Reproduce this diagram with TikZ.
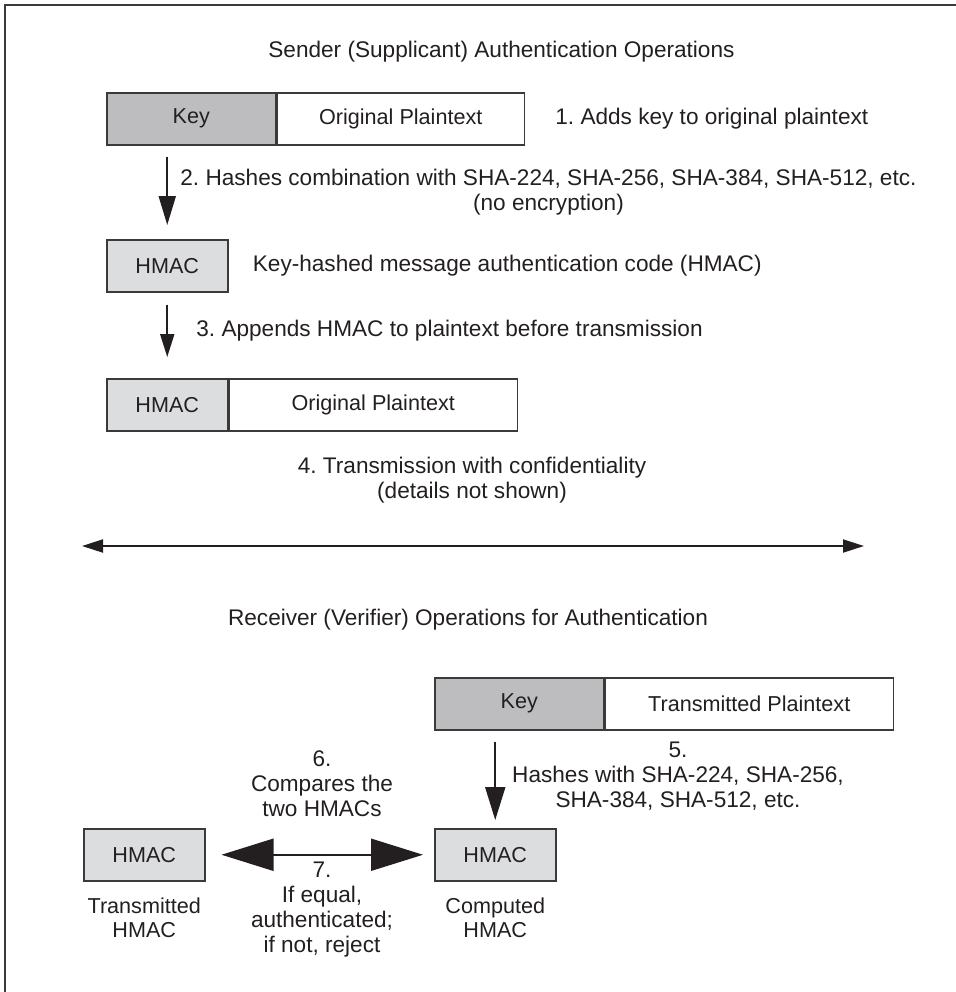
\documentclass[tikz,border=0pt]{standalone}
\usepackage{fontspec}
\setmainfont{Liberation Sans}
\usetikzlibrary{arrows.meta, positioning, calc}
\definecolor{keygray}{HTML}{BDBDBF}
\definecolor{macgray}{HTML}{DCDDDF}
\definecolor{linegray}{HTML}{3A3A3A}
\definecolor{inkblack}{HTML}{231F20}
\newcommand{\diafont}{\fontsize{11.3pt}{12.5pt}\selectfont\frenchspacing}
\newcommand{\boxfont}{\fontsize{10.8pt}{12pt}\selectfont\frenchspacing}
\tikzset{
  hbox/.style={draw=linegray, line width=0.75pt, fill=white, inner sep=0pt,
    minimum height=26pt, font=\boxfont, text=inkblack},
  skey/.style={fill=keygray, minimum width=84.5pt},
  smac/.style={fill=macgray, minimum width=60.5pt},
  htext/.style={font=\diafont, text=inkblack, align=center, inner sep=0pt},
  hsub/.style={font=\boxfont, text=inkblack, align=center, inner sep=0pt},
  hmarrow/.style 2 args={-{Triangle[length=#1, width=#2]}, line width=1pt, draw=inkblack, fill=inkblack},
  dblarrow/.style 2 args={{Triangle[length=#1, width=#2]}-{Triangle[length=#1, width=#2]},
    line width=1pt, draw=inkblack, fill=inkblack},
}

\begin{document}
\begin{tikzpicture}[x=0.5pt, y=-0.5pt]
  \useasboundingbox (0,0) rectangle (956,992);
  \draw[line width=0.8pt, linegray] (5,992) -- (5,5) -- (956,5);
  % Sender
  \node[htext, anchor=west] (sendtitle) at (268,52) {Sender (Supplicant) Authentication Operations};
  \node[hbox, skey, anchor=north west] (key1) at (106,92) {Key};
  \node[hbox, minimum width=123.5pt, right=0pt of key1] (plain1) {Original Plaintext};
  \node[htext, right=15pt of plain1] (step1) {1. Adds key to original plaintext};
  \node[hbox, smac, anchor=north west] (mac1) at (106,239) {HMAC};
  \node[htext, right=12pt of mac1] (macdesc) {Key-hashed message authentication code (HMAC)};
  \node[hbox, smac, anchor=north west] (mac2) at (106,378) {HMAC};
  \node[hbox, minimum width=144pt, right=0pt of mac2] (plain2) {Original Plaintext};
  \node[htext, anchor=west] (step2) at (180,192) {2. Hashes combination with SHA-224, SHA-256, SHA-384, SHA-512, etc.\\(no encryption)};
  \node[htext, anchor=west] (step3) at (196,331) {3. Appends HMAC to plaintext before transmission};
  \draw[hmarrow={14.5pt}{8.5pt}, shorten <=5.5pt, shorten >=7pt] (mac1.north |- key1.south) -- (mac1.north);
  \draw[hmarrow={11.5pt}{7pt}, shorten <=6pt, shorten >=10.5pt] (mac1.south) -- (mac2.north);
  % Transmission
  \node[htext] (step4) at (472,480) {4. Transmission with confidentiality\\(details not shown)};
  \coordinate (txleft) at (82,546);
  \coordinate (txright) at (864,546);
  \draw[dblarrow={10.5pt}{6.5pt}] (txleft) -- (txright);
  % Receiver
  \node[htext] (recvtitle) at (468,620) {Receiver (Verifier) Operations for Authentication};
  \node[hbox, skey, anchor=north west] (key2) at (434,677) {Key};
  \node[hbox, minimum width=144pt, right=0pt of key2] (plain3) {Transmitted Plaintext};
  \node[hbox, smac, anchor=north west] (macc) at (434,828) {HMAC};
  \node[hsub, below=8pt of macc] (maccname) {Computed\\HMAC};
  \node[hbox, smac, anchor=north west] (mact) at (83,828) {HMAC};
  \node[hsub, below=8pt of mact] (mactname) {Transmitted\\HMAC};
  \node[htext] (step5) at (678,776) {5.\\Hashes with SHA-224, SHA-256,\\SHA-384, SHA-512, etc.};
  \draw[hmarrow={16.5pt}{10pt}, shorten <=5.5pt, shorten >=4pt] (macc.north |- key2.south) -- (macc.north);
  \node[htext] (step6) at (322,784) {6.\\Compares the\\two HMACs};
  \node[htext] (step7) at (322,910) {7.\\If equal,\\authenticated;\\if not, reject};
  \draw[dblarrow={26pt}{16pt}, shorten <=8pt, shorten >=5.5pt] (mact.east) -- (macc.west);
\end{tikzpicture}
\end{document}
